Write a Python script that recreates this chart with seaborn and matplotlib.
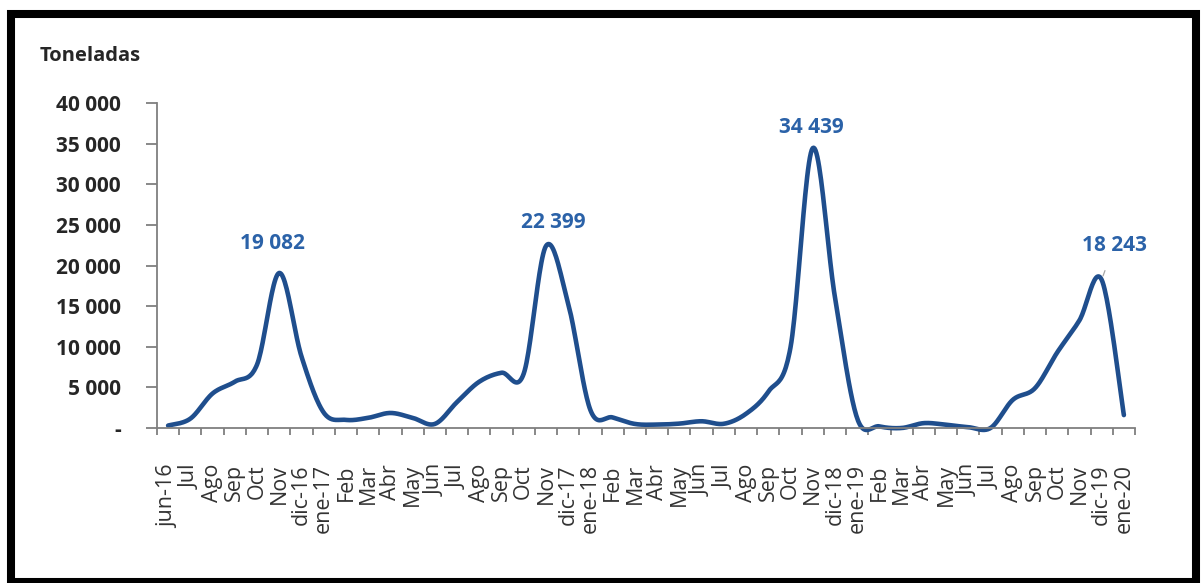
import numpy as np
import pandas as pd
import seaborn as sns
import matplotlib
matplotlib.use("Agg")
import matplotlib.pyplot as plt
from matplotlib.patches import Rectangle
from matplotlib.ticker import FixedLocator

# Monthly tonnage, jun-2016 .. ene-2020
months = ["jun-16", "Jul", "Ago", "Sep", "Oct", "Nov", "dic-16", "ene-17",
          "Feb", "Mar", "Abr", "May", "Jun", "Jul", "Ago", "Sep", "Oct", "Nov",
          "dic-17", "ene-18", "Feb", "Mar", "Abr", "May", "Jun", "Jul", "Ago",
          "Sep", "Oct", "Nov", "dic-18", "ene-19", "Feb", "Mar", "Abr", "May",
          "Jun", "Jul", "Ago", "Sep", "Oct", "Nov", "dic-19", "ene-20"]
tonnes = [300, 1150, 4250, 5700, 7800, 19082, 8800, 1900,
          1000, 1250, 1850, 1250, 500, 3200, 5700, 6800, 6700, 22399,
          15300, 2200, 1300, 500, 420, 540, 830, 520, 1750,
          4460, 9900, 34439, 16100, 1200, 200, 0, 600, 400,
          100, 0, 3460, 4900, 9300, 13250, 18243, 1590]
labelled = [5, 17, 29, 42]
label_offsets = [(-5, 21), (5, 17), (-1, 15), (9, 25)]

y_ticks = [0, 5000, 10000, 15000, 20000, 25000, 30000, 35000, 40000]
y_ticklabels = ["-", "5 000", "10 000", "15 000", "20 000", "25 000",
                "30 000", "35 000", "40 000"]

LINE = "#1F4E8D"
LABEL = "#2B62A8"


def smooth_curve(xv, yv, steps=24):
    """Bezier smoothing through every point (spreadsheet-style smoothed line)."""
    xv = np.asarray(xv, float)
    yv = np.asarray(yv, float)
    n = len(xv)
    t = np.linspace(0, 1, steps, endpoint=False)[:, None]
    out = []
    for i in range(n - 1):
        a = max(i - 1, 0)
        d = min(i + 2, n - 1)
        p0 = np.array([xv[a], yv[a]])
        p1 = np.array([xv[i], yv[i]])
        p2 = np.array([xv[i + 1], yv[i + 1]])
        p3 = np.array([xv[d], yv[d]])
        c1 = p1 + (p2 - p0) / 6.0
        c2 = p2 - (p3 - p1) / 6.0
        seg = ((1 - t) ** 3) * p1 + 3 * ((1 - t) ** 2) * t * c1 \
            + 3 * (1 - t) * t ** 2 * c2 + t ** 3 * p2
        out.append(seg)
    out.append(np.array([[xv[-1], yv[-1]]]))
    pts = np.vstack(out)
    return pts[:, 0], pts[:, 1]


sns.set_theme(style="white")
plt.rcParams["font.family"] = ["Open Sans", "DejaVu Sans"]

fig = plt.figure(figsize=(12.03, 5.83), dpi=100)
ax = fig.add_axes([157 / 1203, 155 / 583, (1135 - 157) / 1203, 325 / 583])

pos = np.arange(len(months))
sx, sy = smooth_curve(pos, tonnes)
curve = pd.DataFrame({"pos": sx, "val": sy})
sns.lineplot(data=curve, x="pos", y="val", ax=ax, color=LINE, lw=3.3,
             sort=False, estimator=None)
for ln in ax.lines:
    ln.set_clip_on(False)
    ln.set_solid_capstyle("round")

ax.set_xlim(-0.5, len(months) - 0.5)
ax.set_ylim(0, 40000)
ax.set_xlabel("")
ax.set_ylabel("")

# category labels at centres, tick marks on the boundaries
ax.set_xticks(pos)
ax.set_xticklabels(months, rotation=90, va="top", ha="center",
                   fontsize=15.5, color="#333333")
ax.xaxis.set_minor_locator(FixedLocator(np.arange(-0.5, len(months), 1.0)))
ax.tick_params(axis="x", which="major", length=0, pad=26)
ax.tick_params(axis="x", which="minor", length=5, width=1.3,
               color="#7f7f7f", direction="out", bottom=True)

ax.set_yticks(y_ticks)
ax.set_yticklabels(y_ticklabels, fontsize=15, fontweight="bold",
                   color="#262626")
ax.tick_params(axis="y", length=8, width=1.3, color="#7f7f7f",
               direction="out", left=True, pad=18)

for side in ["top", "right"]:
    ax.spines[side].set_visible(False)
for side in ["left", "bottom"]:
    ax.spines[side].set_color("#7f7f7f")
    ax.spines[side].set_linewidth(1.3)

for idx, (dx, dy) in zip(labelled, label_offsets):
    val = tonnes[idx]
    text = f"{val:,}".replace(",", " ")
    kw = {}
    if idx == 42:
        kw["arrowprops"] = dict(arrowstyle="-", color="#a6a6a6", lw=0.9,
                                shrinkA=9, shrinkB=3)
    ax.annotate(text, xy=(idx, val), xytext=(dx, dy),
                textcoords="offset points", ha="center", va="center",
                fontsize=15, fontweight="bold", color=LABEL, **kw)

fig.text(40 / 1203, 1 - 56 / 583, "Toneladas", ha="left", va="center",
         fontsize=14.5, fontweight="bold", color="#262626")

# heavy frame around the whole graphic
fig.patches.append(Rectangle((11 / 1203, 1 - 582 / 583),
                             (1196 - 11) / 1203, (582 - 14) / 583,
                             transform=fig.transFigure, fill=False,
                             edgecolor="black", lw=5.8))

fig.savefig("out.png", dpi=100)
